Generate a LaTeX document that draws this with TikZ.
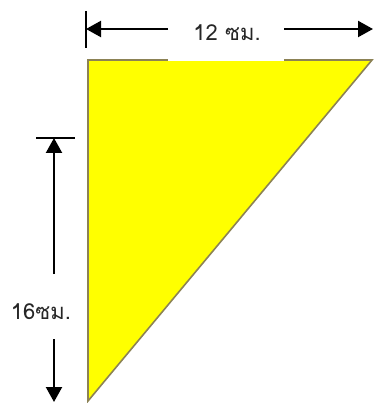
\documentclass[tikz,border=0pt]{standalone}
\usepackage{fontspec}
\newfontfamily\thaifont[Script=Thai]{Loma}
\usetikzlibrary{arrows.meta}
\definecolor{triedge}{RGB}{140,130,85}
\definecolor{triyellow}{RGB}{255,255,0}
\tikzset{
  dimline/.style={line width=2.2pt, black, -{Triangle[length=15pt,width=16pt]}},
  tickline/.style={line width=2pt, black},
  dimlabel/.style={font=\thaifont\fontsize{22}{26}\selectfont, text=black!85, inner sep=0pt},
}
\begin{document}
\begin{tikzpicture}[x=1pt,y=-1pt]
\useasboundingbox (0,0) rectangle (373,403);
% triangle
\draw[fill=triyellow, draw=triedge, line width=1.6pt, line join=miter]
  (88,60) -- (372,60) -- (88,401) -- cycle;
% label box for the width (covers the top edge)
\node[fill=white, minimum width=116pt, minimum height=50pt, inner sep=0pt] (wbox) at (226,36) {};
\node[dimlabel] (wlab) at (227,33) {12 ซม.};
% ticks
\coordinate (t1a) at (86,11);
\coordinate (t1b) at (86,48);
\draw[tickline] (t1a) -- (t1b);
\coordinate (t2a) at (36,138);
\coordinate (t2b) at (75,138);
\draw[tickline] (t2a) -- (t2b);
% width arrows
\coordinate (wl) at (168,29);
\coordinate (wltip) at (86,29);
\coordinate (wr) at (284,29);
\coordinate (wrtip) at (373,29);
\draw[dimline] (wl) -- (wltip);
\draw[dimline] (wr) -- (wrtip);
% height label and arrows
\node[dimlabel] (hlab) at (41,312) {16ซม.};
\coordinate (hu) at (54,274);
\coordinate (hutip) at (54,138);
\coordinate (hd) at (54,339);
\coordinate (hdtip) at (54,402);
\draw[dimline] (hu) -- (hutip);
\draw[dimline] (hd) -- (hdtip);
\end{tikzpicture}
\end{document}
